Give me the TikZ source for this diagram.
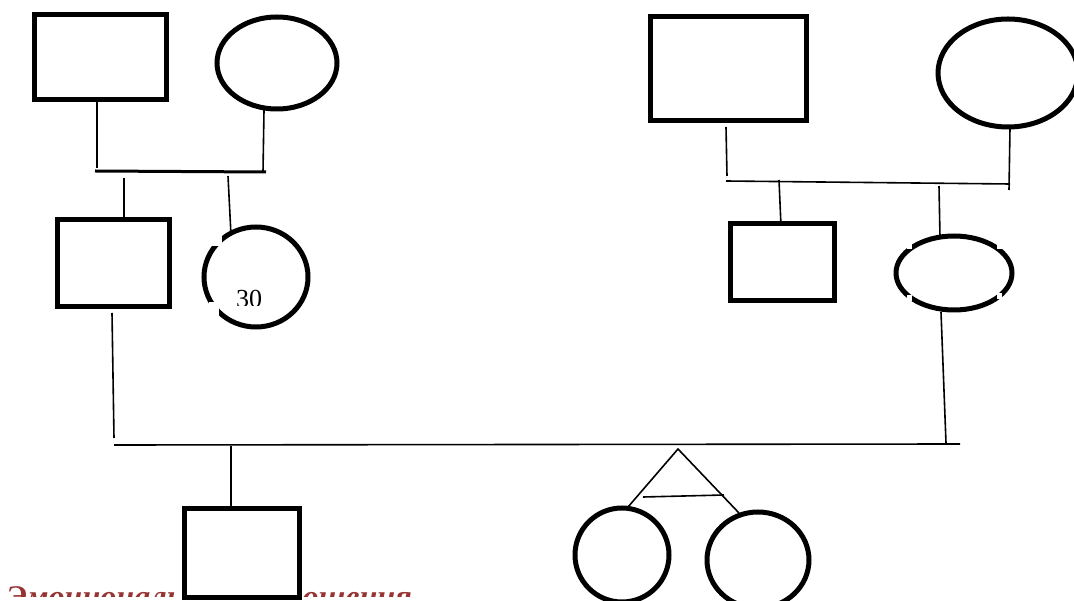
\documentclass[tikz,border=0pt]{standalone}
\usepackage{fontspec}
\setmainfont{Liberation Serif}
\definecolor{wm}{RGB}{150,52,52}
\begin{document}
\begin{tikzpicture}[x=1pt,y=-1pt,
  person/.style={draw=black,line width=5pt,fill=white},
  link/.style={draw=black,line width=1.6pt},
  bar/.style={draw=black,line width=3pt},
  notch/.style={fill=white,draw=none}]
\useasboundingbox (0,0) rectangle (1074,601);
\begin{scope}
\clip (0,560) rectangle (1074,596);
\node[anchor=base west,inner sep=0pt,text=wm,xscale=1.07,font=\fontsize{30}{30}\selectfont\bfseries\itshape] (wm) at (6,606) {Эмоциональные отношения};
\end{scope}
% generation 1
\draw[person] (34,15) rectangle (166,100);
\coordinate (s1) at (97,100);
\draw[person] (277,63) ellipse [x radius=60,y radius=46];
\coordinate (c1) at (264,110);
\coordinate (m1a) at (95,171); \coordinate (m1b) at (266,172);
\coordinate (m1s) at (97,168); \coordinate (m1c) at (263,172);
\draw[link] (s1) -- (m1s);
\draw[link] (c1) -- (m1c);
\draw[bar] (m1a) -- (m1b);
\draw[person] (650,17) rectangle (806,121);
\draw[person] (1008,73) ellipse [x radius=70,y radius=54];
\coordinate (s3) at (726,127); \coordinate (m2s) at (727,176);
\coordinate (c3) at (1010,128); \coordinate (m2c) at (1009,190);
\coordinate (m2a) at (726,181); \coordinate (m2b) at (1010,184);
\draw[link] (s3) -- (m2s);
\draw[link] (c3) -- (m2c);
\draw[link] (m2a) -- (m2b);
% generation 2
\coordinate (k1a) at (124,178); \coordinate (k1b) at (124,220);
\coordinate (k2a) at (228,176); \coordinate (k2b) at (231,235);
\draw[link] (k1a) -- (k1b);
\draw[link] (k2a) -- (k2b);
\draw[person] (57,220) rectangle (169,307);
\draw[person] (256,277) ellipse [x radius=52,y radius=50];
\fill[notch] (210,233) rectangle (222,246);
\fill[notch] (209,302) rectangle (219,316);
\node[font=\fontsize{26}{26}\selectfont,inner sep=0pt] (age) at (249,299) {30};
\fill[notch] (225,306) rectangle (275,312);
\coordinate (k3a) at (779,180); \coordinate (k3b) at (781,226);
\coordinate (k4a) at (939,186); \coordinate (k4b) at (940,237);
\draw[link] (k3a) -- (k3b);
\draw[link] (k4a) -- (k4b);
\draw[person] (730,224) rectangle (834,301);
\draw[person] (954,273) ellipse [x radius=58,y radius=37];
\fill[notch] (907,242) rectangle (912,249);
\fill[notch] (997,242) rectangle (1002,249);
\fill[notch] (907,295) rectangle (912,301);
\fill[notch] (997,293) rectangle (1002,299);
% marriage 3
\coordinate (s2) at (112,313); \coordinate (m3s) at (114,438);
\coordinate (e4) at (941,312); \coordinate (m3e) at (946,443);
\coordinate (m3a) at (114,445); \coordinate (m3b) at (960,444);
\draw[link] (s2) -- (m3s);
\draw[link] (e4) -- (m3e);
\draw[link] (m3a) -- (m3b);
% generation 3
\coordinate (k5a) at (231,446); \coordinate (k5b) at (231,508);
\draw[link] (k5a) -- (k5b);
\draw[person] (184,508) rectangle (299,597);
\coordinate (apex) at (678,449);
\coordinate (t1) at (628,507); \coordinate (t2) at (739,513);
\coordinate (tb1) at (643,497); \coordinate (tb2) at (724,495);
\draw[link] (t1) -- (apex) -- (t2);
\draw[link] (tb1) -- (tb2);
\draw[person] (622,555) ellipse [x radius=47,y radius=47];
\draw[person] (758,560) ellipse [x radius=51,y radius=48];
\end{tikzpicture}
\end{document}
